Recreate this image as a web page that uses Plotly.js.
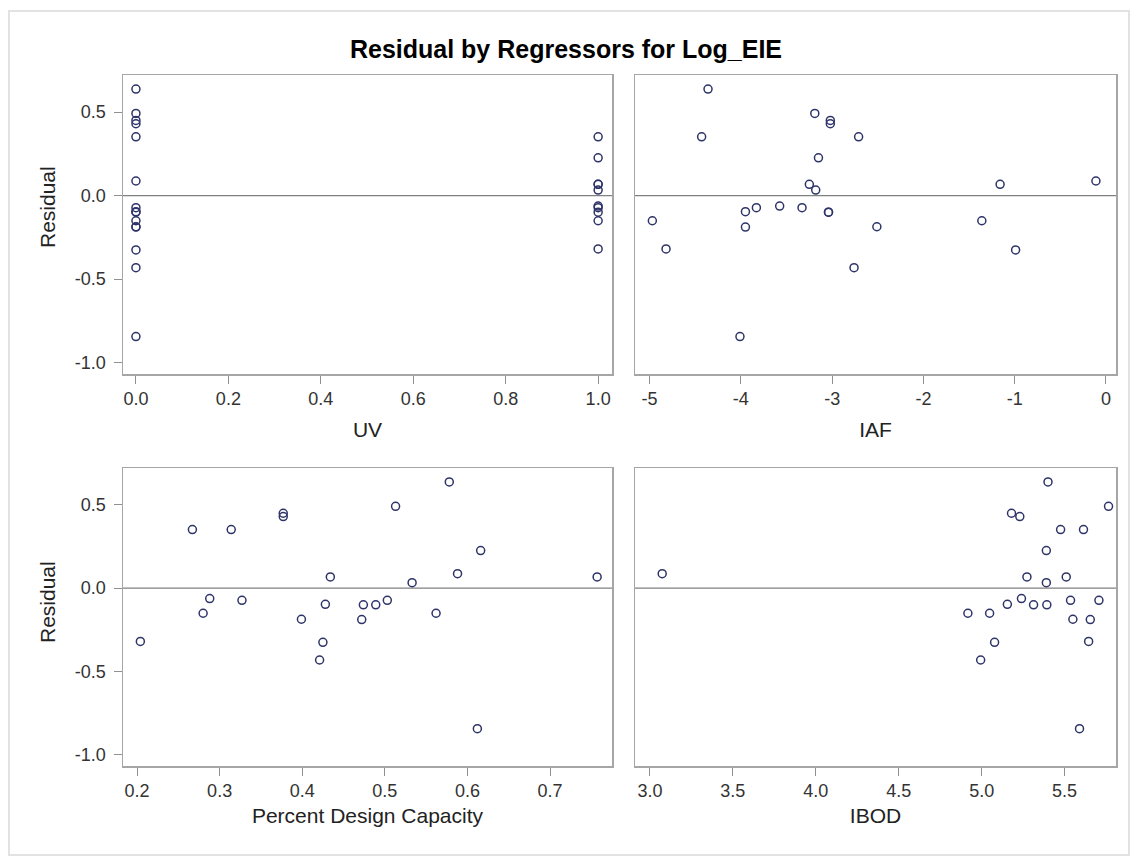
<!DOCTYPE html>
<html>
<head>
<meta charset="utf-8">
<script src="https://cdn.plot.ly/plotly-3.0.1.min.js"></script>
<style>
html,body{margin:0;padding:0;background:#fff;}
#chart{width:1132px;height:858px;}
</style>
</head>
<body>
<div id="chart"></div>
<script>
// Residuals of the model (one per observation)
const residual = [0.638, 0.492, 0.450, 0.430, 0.352, 0.352, 0.226, 0.087, 0.067, 0.067, 0.033,
  -0.063, -0.073, -0.073, -0.097, -0.100, -0.100, -0.151, -0.151, -0.187, -0.189,
  -0.320, -0.326, -0.432, -0.845];
// Regressors
const uv = [0, 0, 0, 0, 0, 1, 1, 0, 1, 1, 1,
  1, 0, 1, 0, 0, 1, 0, 1, 0, 0,
  1, 0, 0, 0];
const iaf = [-4.36, -3.19, -3.02, -3.02, -4.43, -2.71, -3.15, -0.11, -3.25, -1.16, -3.18,
  -3.575, -3.83, -3.33, -3.95, -3.04, -3.04, -4.97, -1.36, -2.51, -3.95,
  -4.82, -0.99, -2.76, -4.01];
const pdc = [0.578, 0.513, 0.377, 0.377, 0.267, 0.314, 0.616, 0.588, 0.434, 0.757, 0.533,
  0.288, 0.327, 0.503, 0.428, 0.474, 0.489, 0.280, 0.562, 0.399, 0.472,
  0.204, 0.425, 0.421, 0.612];
const ibod = [5.40, 5.765, 5.18, 5.23, 5.476, 5.614, 5.39, 3.074, 5.273, 5.51, 5.39,
  5.24, 5.536, 5.707, 5.155, 5.313, 5.393, 4.917, 5.048, 5.55, 5.655,
  5.645, 5.078, 4.994, 5.59];

const yTicks = [-1.0, -0.5, 0.0, 0.5];
const uvTicks = [0.0, 0.2, 0.4, 0.6, 0.8, 1.0];
const iafTicks = [-5, -4, -3, -2, -1, 0];
const pdcTicks = [0.2, 0.3, 0.4, 0.5, 0.6, 0.7];
const ibodTicks = [3.0, 3.5, 4.0, 4.5, 5.0, 5.5];

const panels = [
  {x: uv, xa: 'x', ya: 'y'},
  {x: iaf, xa: 'x2', ya: 'y2'},
  {x: pdc, xa: 'x3', ya: 'y3'},
  {x: ibod, xa: 'x4', ya: 'y4'}
];

const markerStyle = {symbol: 'circle-open', size: 8, color: '#2e3468', line: {width: 1.5, color: '#2e3468'}};
const traces = panels.map(p => ({
  type: 'scatter', mode: 'markers', x: p.x, y: residual,
  xaxis: p.xa, yaxis: p.ya, marker: markerStyle, showlegend: false, hoverinfo: 'x+y'
}));

const W = 1132, H = 858;
const colL = [123 / W, 612 / W], colR = [635 / W, 1116 / W];
const rowT = [1 - 374 / H, 1 - 75 / H], rowB = [1 - 766 / H, 1 - 468 / H];
const yRange = [-1.069, 0.722];
const FAM = 'Liberation Sans, Arial, sans-serif';
const tickFont = {family: FAM, size: 18, color: '#333333'};
const titleFont = {family: FAM, size: 21, color: '#222222'};
const lineCol = '#a6a6a6';

function xax(domain, range, ticks, dec, title, anchor, standoff) {
  return {
    domain: domain, range: range, anchor: anchor, tickmode: 'array', tickvals: ticks,
    ticktext: ticks.map(v => v.toFixed(dec)),
    ticks: 'outside', ticklen: 8, tickcolor: '#909090', tickwidth: 1,
    showline: true, mirror: true, linecolor: lineCol, linewidth: 1.5,
    showgrid: false, zeroline: false, tickfont: tickFont,
    title: {text: title, font: titleFont, standoff: standoff}
  };
}
function yax(domain, anchor, showLabels) {
  return {
    domain: domain, range: yRange, anchor: anchor, tickmode: 'array', tickvals: yTicks,
    ticktext: yTicks.map(v => v.toFixed(1)),
    ticks: showLabels ? 'outside' : '', ticklen: 8, tickcolor: '#909090',
    ticklabelstandoff: 4,
    showticklabels: showLabels,
    showline: true, mirror: true, linecolor: lineCol, linewidth: 1.5,
    showgrid: false, zeroline: false, tickfont: tickFont
  };
}

const refLine = (xa, ya) => ({
  type: 'line', xref: xa + ' domain', yref: ya, x0: 0, x1: 1, y0: 0, y1: 0,
  line: {color: '#808080', width: 1.2}, layer: 'below'
});

const yLabel = (py) => ({
  text: 'Residual', xref: 'paper', yref: 'paper', x: 47 / W, y: 1 - py / H,
  xanchor: 'center', yanchor: 'middle', textangle: -90, showarrow: false, font: titleFont
});

const layout = {
  width: W, height: H,
  margin: {l: 0, r: 0, t: 0, b: 0},
  paper_bgcolor: '#ffffff', plot_bgcolor: '#ffffff',
  title: {text: '<b>Residual by Regressors for Log_EIE</b>', x: 0.5, xanchor: 'center',
    y: 1 - 49 / H, yanchor: 'middle',
    font: {family: FAM, size: 25, color: '#000000'}},
  xaxis: xax(colL, [-0.028, 1.03], uvTicks, 1, 'UV', 'y', 14),
  yaxis: yax(rowT, 'x', true),
  xaxis2: xax(colR, [-5.16, 0.11], iafTicks, 0, 'IAF', 'y2', 14),
  yaxis2: yax(rowT, 'x2', false),
  xaxis3: xax(colL, [0.183, 0.775], pdcTicks, 1, 'Percent Design Capacity', 'y3', 8),
  yaxis3: yax(rowB, 'x3', true),
  xaxis4: xax(colR, [2.91, 5.81], ibodTicks, 1, 'IBOD', 'y4', 8),
  yaxis4: yax(rowB, 'x4', false),
  annotations: [yLabel(207), yLabel(602)],
  shapes: [
    refLine('x', 'y'), refLine('x2', 'y2'), refLine('x3', 'y3'), refLine('x4', 'y4'),
    {type: 'rect', xref: 'paper', yref: 'paper', x0: 9 / W, x1: 1129 / W, y0: 1 - 855 / H, y1: 1 - 11 / H,
      line: {color: '#e2e2e2', width: 2}, fillcolor: 'rgba(0,0,0,0)', layer: 'below'}
  ]
};

Plotly.newPlot('chart', traces, layout, {displayModeBar: false, staticPlot: true});
</script>
</body>
</html>
